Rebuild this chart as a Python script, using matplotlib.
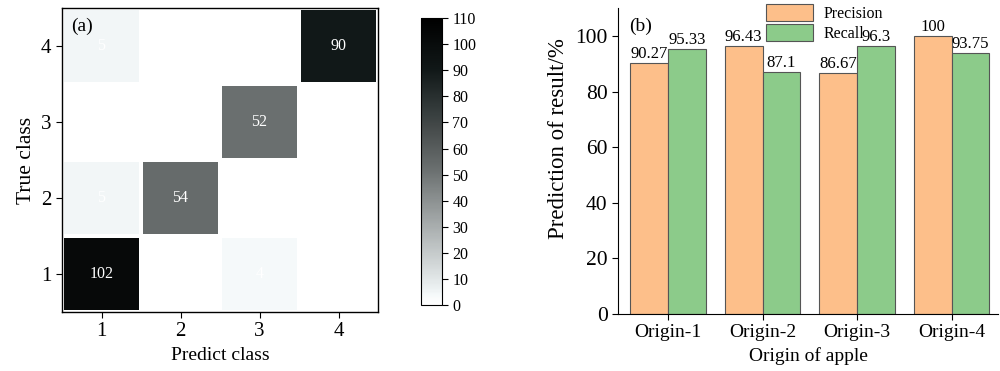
import numpy as np
import matplotlib; matplotlib.use("Agg")
import matplotlib.pyplot as plt
from matplotlib.colors import LinearSegmentedColormap

plt.rcParams["font.family"] = ["Liberation Serif", "DejaVu Serif"]

# confusion matrix, rows = true class 1..4, cols = predicted class 1..4
classes = [1, 2, 3, 4]
conf = np.array([[102, 0, 4, 0],
                 [5, 54, 0, 0],
                 [0, 0, 52, 0],
                 [5, 0, 0, 90]])

origins = ["Origin-1", "Origin-2", "Origin-3", "Origin-4"]
precision = [90.27, 96.43, 86.67, 100]
recall = [95.33, 87.1, 96.3, 93.75]
prec_lbl = ["90.27", "96.43", "86.67", "100"]
rec_lbl = ["95.33", "87.1", "96.3", "93.75"]

fig = plt.figure(figsize=(10, 3.71), dpi=100)

# ── (a) confusion matrix ──────────────────────────────────────────────
ax1 = fig.add_axes([0.062, 0.159, 0.316, 0.819])
cmap = LinearSegmentedColormap.from_list(
    "cm", [(0.0, "#ffffff"), (0.04, "#f4f8f9"), (0.05, "#eef3f4"),
           (0.47, "#6b7070"), (0.82, "#111818"), (1.0, "#000000")])
xs = np.arange(0.5, 5.0, 1.0)
mesh = ax1.pcolormesh(xs, xs, conf, cmap=cmap, vmin=0, vmax=110,
                      edgecolors="white", linewidth=1.5)
for i in range(4):
    for j in range(4):
        if conf[i, j] > 0:
            ax1.text(j + 1, i + 1, str(conf[i, j]), color="white",
                     ha="center", va="center", fontsize=11.5)
ax1.set_xlim(0.5, 4.5)
ax1.set_ylim(0.5, 4.5)
ax1.set_xticks(classes)
ax1.set_yticks(classes)
ax1.tick_params(labelsize=15, direction="out", length=4)
ax1.set_xlabel("Predict class", fontsize=14)
ax1.set_ylabel("True class", fontsize=15.5)
ax1.text(0.03, 0.97, "(a)", transform=ax1.transAxes, fontsize=14,
         ha="left", va="top")
for s in ax1.spines.values():
    s.set_linewidth(1.0)

cax = fig.add_axes([0.421, 0.178, 0.021, 0.773])
cb = fig.colorbar(mesh, cax=cax, ticks=np.arange(0, 111, 10))
cb.ax.tick_params(labelsize=11.5, length=4)
cb.outline.set_linewidth(0.8)

# ── (b) precision / recall bars ──────────────────────────────────────
ax2 = fig.add_axes([0.618, 0.154, 0.38, 0.824])
x = np.arange(len(origins))
w = 0.4
b1 = ax2.bar(x - w / 2, precision, w, color="#fdbf8a", edgecolor="#555555",
             linewidth=0.8, label="Precision")
b2 = ax2.bar(x + w / 2, recall, w, color="#8ccb8a", edgecolor="#555555",
             linewidth=0.8, label="Recall")
for bars, lbls in ((b1, prec_lbl), (b2, rec_lbl)):
    for b, t in zip(bars, lbls):
        ax2.text(b.get_x() + b.get_width() / 2, b.get_height() + 0.3, t,
                 ha="center", va="bottom", fontsize=12)
ax2.set_xlim(-0.53, 3.49)
ax2.set_ylim(0, 110)
ax2.set_yticks(np.arange(0, 101, 20))
ax2.set_xticks(x)
ax2.set_xticklabels(origins)
ax2.tick_params(axis="y", labelsize=15.5, direction="out", length=4)
ax2.tick_params(axis="x", labelsize=14, direction="out", length=4)
ax2.set_xlabel("Origin of apple", fontsize=14)
ax2.set_ylabel("Prediction of result/%", fontsize=16.5)
ax2.yaxis.set_label_coords(-0.13, 0.575)
ax2.spines["top"].set_visible(False)
ax2.spines["right"].set_visible(False)
ax2.text(0.03, 0.97, "(b)", transform=ax2.transAxes, fontsize=14,
         ha="left", va="top")
ax2.legend(loc="upper left", bbox_to_anchor=(0.39, 1.012), frameon=False,
           fontsize=11.5, handlelength=2.9, handleheight=1.2, labelspacing=0.15,
           borderaxespad=0, borderpad=0, handletextpad=0.7)

fig.savefig("out.png", dpi=100)
